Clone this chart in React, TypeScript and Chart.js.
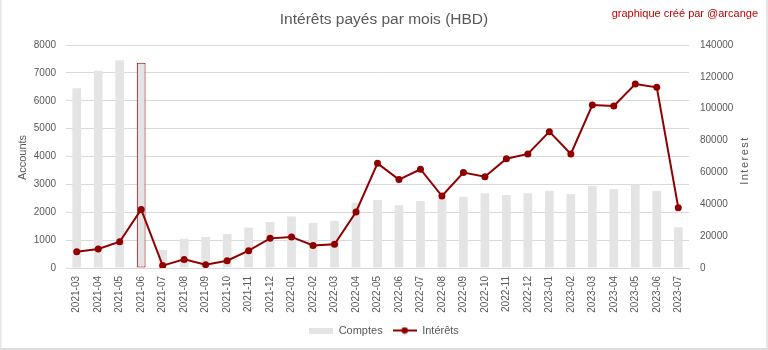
import { useEffect, useRef } from "react";
import { Chart, registerables } from "chart.js";

Chart.register(...registerables);

const months = [
  "2021-03", "2021-04", "2021-05", "2021-06", "2021-07", "2021-08", "2021-09", "2021-10", "2021-11", "2021-12",
  "2022-01", "2022-02", "2022-03", "2022-04", "2022-05", "2022-06", "2022-07", "2022-08", "2022-09", "2022-10",
  "2022-11", "2022-12", "2023-01", "2023-02", "2023-03", "2023-04", "2023-05", "2023-06", "2023-07",
];

const accounts = [
  6450, 7080, 7450, 7360, 650, 1050, 1110, 1220, 1450, 1650,
  1850, 1620, 1690, 2340, 2440, 2250, 2400, 2500, 2550, 2680,
  2620, 2680, 2770, 2650, 2940, 2830, 3000, 2770, 1460,
];

const interest = [
  10200, 11900, 16500, 36800, 1500, 5400, 2100, 4600, 10900, 18600,
  19500, 14200, 14900, 35200, 65700, 55500, 62000, 45200, 59900, 57300,
  68600, 71600, 85600, 71600, 102300, 101700, 115500, 113400, 37900,
];

const highlightedMonth = "2021-06";

const titleText = "Intérêts payés par mois (HBD)";
const creditText = "graphique créé par @arcange";
const leftAxisTitle = "Accounts";
const rightAxisTitle = "Interest";
const barLabel = "Comptes";
const lineLabel = "Intérêts";

const FONT = "'Liberation Sans', Arial, sans-serif";
const TEXT = "#595959";
const GRID = "#d9d9d9";
const BAR = "#e4e4e4";
const LINE = "#900000";
const CREDIT = "#c00000";

function barIcon(): HTMLCanvasElement {
  const c = document.createElement("canvas");
  c.width = 24;
  c.height = 6;
  const ctx = c.getContext("2d")!;
  ctx.fillStyle = BAR;
  ctx.fillRect(0, 0, 24, 6);
  return c;
}

function lineIcon(): HTMLCanvasElement {
  const c = document.createElement("canvas");
  c.width = 24;
  c.height = 8;
  const ctx = c.getContext("2d")!;
  ctx.strokeStyle = LINE;
  ctx.lineWidth = 2;
  ctx.beginPath();
  ctx.moveTo(0, 4);
  ctx.lineTo(24, 4);
  ctx.stroke();
  ctx.fillStyle = LINE;
  ctx.beginPath();
  ctx.arc(12, 4, 3.2, 0, Math.PI * 2);
  ctx.fill();
  return c;
}

const decorations = {
  id: "decorations",
  beforeDraw(chart: any) {
    const ctx = chart.ctx as CanvasRenderingContext2D;
    ctx.save();
    ctx.fillStyle = "#ffffff";
    ctx.fillRect(0, 0, chart.width, chart.height);
    ctx.fillStyle = "#e6e6e6";
    ctx.fillRect(0, 0, 1.5, chart.height);
    ctx.fillRect(chart.width - 2, 0, 2, chart.height);
    ctx.fillStyle = "#dcdcdc";
    ctx.fillRect(0, chart.height - 2, chart.width, 2);
    ctx.restore();
  },
  afterDraw(chart: any) {
    const ctx = chart.ctx as CanvasRenderingContext2D;
    const area = chart.chartArea;
    const midY = (area.top + area.bottom) / 2;
    ctx.save();
    ctx.textAlign = "center";
    ctx.textBaseline = "middle";
    ctx.fillStyle = TEXT;
    ctx.font = `15.5px ${FONT}`;
    ctx.fillText(titleText, chart.width / 2, 20);

    ctx.textAlign = "right";
    ctx.fillStyle = CREDIT;
    ctx.font = `11px ${FONT}`;
    ctx.fillText(creditText, 758, 14);

    ctx.fillStyle = TEXT;
    ctx.textAlign = "center";
    ctx.font = `11px ${FONT}`;
    ctx.save();
    ctx.translate(23, midY + 1);
    ctx.rotate(-Math.PI / 2);
    ctx.fillText(leftAxisTitle, 0, 0);
    ctx.restore();

    ctx.save();
    ctx.translate(745, midY + 4);
    ctx.rotate(-Math.PI / 2);
    (ctx as any).letterSpacing = "1.5px";
    ctx.fillText(rightAxisTitle, 0, 0);
    ctx.restore();
    ctx.restore();
  },
};

const plain = (v: any) => String(v);

export default function App() {
  const ref = useRef<HTMLCanvasElement | null>(null);

  useEffect(() => {
    document.body.style.margin = "0";
    if (!ref.current) return;
    const icons = { bar: barIcon(), line: lineIcon() };
    const chart = new Chart(ref.current, {
      type: "bar",
      data: {
        labels: months,
        datasets: [
          {
            type: "bar",
            label: barLabel,
            data: accounts,
            backgroundColor: BAR,
            borderColor: months.map((m) => (m === highlightedMonth ? LINE : BAR)),
            borderWidth: months.map((m) => (m === highlightedMonth ? 1 : 0)),
            borderSkipped: false,
            barPercentage: 0.405,
            categoryPercentage: 1,
            yAxisID: "y",
            order: 2,
          },
          {
            type: "line",
            label: lineLabel,
            data: interest,
            borderColor: LINE,
            backgroundColor: LINE,
            borderWidth: 2,
            pointRadius: 3.5,
            pointBorderWidth: 0,
            pointBackgroundColor: LINE,
            tension: 0,
            yAxisID: "y1",
            order: 1,
          },
        ],
      },
      options: {
        responsive: false,
        animation: false,
        devicePixelRatio: 1,
        layout: { padding: { top: 45, left: 0, right: 0, bottom: 4 } },
        plugins: {
          title: { display: false },
          tooltip: { enabled: false },
          legend: {
            position: "bottom",
            labels: {
              usePointStyle: true,
              pointStyleWidth: 24,
              color: TEXT,
              font: { size: 11, family: FONT },
              padding: 10,
              generateLabels: () => [
                { text: barLabel, pointStyle: icons.bar, fillStyle: BAR, strokeStyle: BAR, lineWidth: 0, hidden: false, datasetIndex: 0, fontColor: TEXT },
                { text: lineLabel, pointStyle: icons.line, fillStyle: LINE, strokeStyle: LINE, lineWidth: 0, hidden: false, datasetIndex: 1, fontColor: TEXT },
              ] as any,
            },
          },
        },
        scales: {
          x: {
            offset: true,
            grid: { display: false },
            border: { display: true, color: GRID },
            ticks: {
              color: TEXT,
              font: { size: 10, family: FONT },
              minRotation: 90,
              maxRotation: 90,
              padding: 0,
              autoSkip: false,
            },
            afterFit: (s: any) => {
              s.height = 47;
            },
          },
          y: {
            position: "left",
            min: 0,
            max: 8000,
            grid: { color: GRID, drawTicks: false },
            border: { display: false },
            ticks: { stepSize: 1000, color: TEXT, font: { size: 10, family: FONT }, padding: 10, callback: plain },
            afterFit: (s: any) => {
              s.width = 66;
            },
          },
          y1: {
            position: "right",
            min: 0,
            max: 140000,
            grid: { drawOnChartArea: false, drawTicks: false },
            border: { display: false },
            ticks: { stepSize: 20000, color: TEXT, font: { size: 10, family: FONT }, padding: 11, callback: plain },
            afterFit: (s: any) => {
              s.width = 79;
            },
          },
        },
      },
      plugins: [decorations],
    } as any);
    return () => chart.destroy();
  }, []);

  return (
    <div style={{ width: 768, height: 350 }}>
      <canvas ref={ref} width={768} height={350} style={{ display: "block" }} />
    </div>
  );
}
